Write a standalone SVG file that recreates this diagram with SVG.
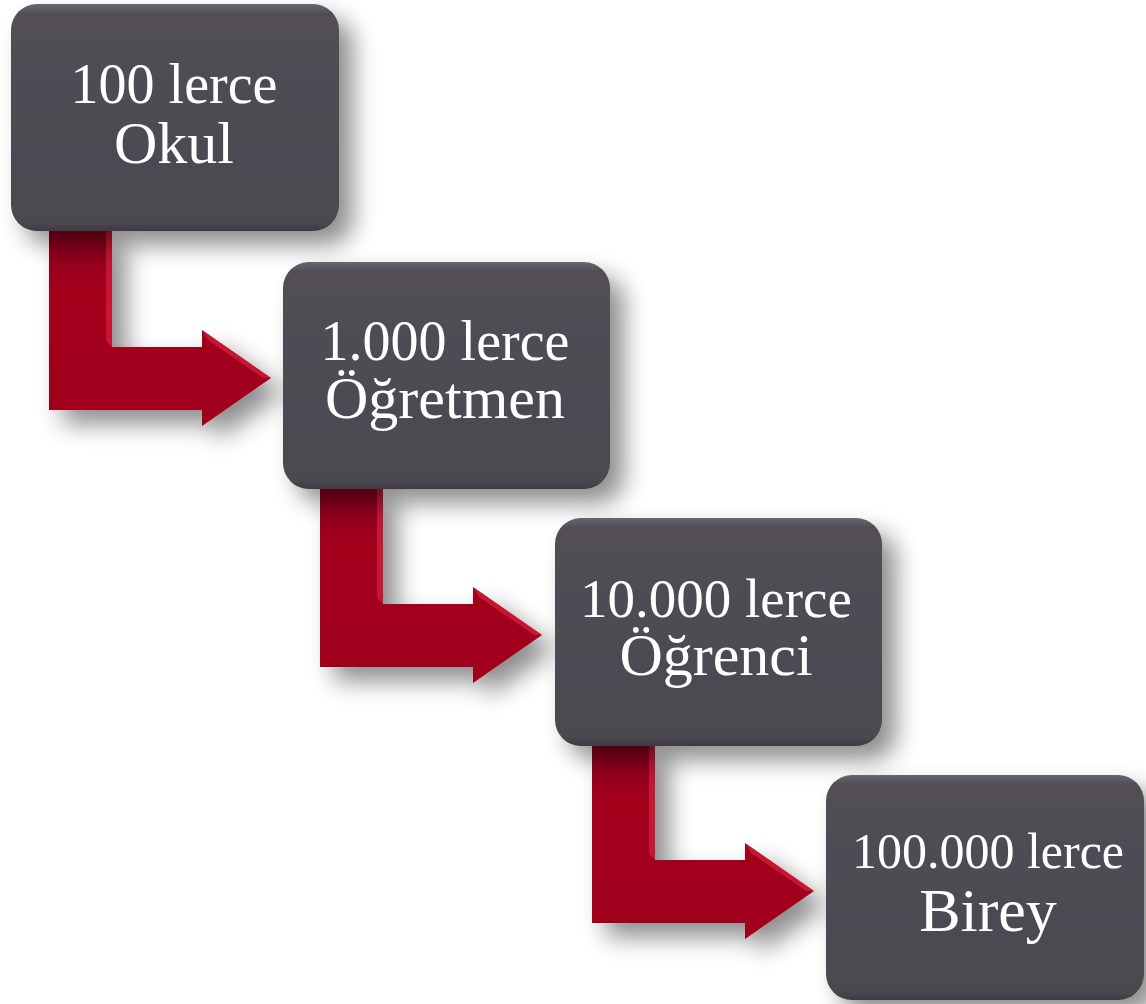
<svg xmlns="http://www.w3.org/2000/svg" width="1146" height="1004" viewBox="0 0 1146 1004">
<defs>
<filter id="sh" x="-20%" y="-20%" width="150%" height="150%">
<feGaussianBlur in="SourceAlpha" stdDeviation="12"/>
<feOffset dx="14" dy="14" result="b"/>
<feComponentTransfer><feFuncA type="linear" slope="0.45"/></feComponentTransfer>
<feMerge><feMergeNode/><feMergeNode in="SourceGraphic"/></feMerge>
</filter>
<linearGradient id="bx" x1="0" y1="0" x2="0" y2="1">
<stop offset="0" stop-color="#6a6670"/>
<stop offset="0.04" stop-color="#524e56"/>
<stop offset="0.96" stop-color="#4c4850"/>
<stop offset="1" stop-color="#3e3a42"/>
</linearGradient>
<linearGradient id="ar" x1="0" y1="0" x2="0" y2="1">
<stop offset="0" stop-color="#86001a"/>
<stop offset="0.3" stop-color="#a3001f"/>
<stop offset="1" stop-color="#a0001e"/>
</linearGradient>
<path id="arrow" d="M0,0 H63 V116 H153 V99 L222,147 L153,195 V179 H0 Z"/>
<path id="bevel" d="M57,0 H63 V116 L57,110 Z M153,99 L222,147 L214,147 L159,109 Z"/>
</defs>
<style>
.box{fill:url(#bx);filter:url(#sh)}
.arr{fill:url(#ar);filter:url(#sh)}
.bev{fill:#d4213f;opacity:0.7}
.t{font-family:"Liberation Serif","DejaVu Serif",serif;fill:#ffffff;text-anchor:middle}
</style>
<g id="connectors">
<use href="#arrow" class="arr" x="49" y="231"/>
<use href="#bevel" class="bev" x="49" y="231"/>
<use href="#arrow" class="arr" x="320" y="488"/>
<use href="#bevel" class="bev" x="320" y="488"/>
<use href="#arrow" class="arr" x="592" y="744"/>
<use href="#bevel" class="bev" x="592" y="744"/>
</g>
<g id="node1">
<rect class="box" x="11" y="4" width="328" height="227" rx="26"/>
<text class="t" x="174" y="103" font-size="56">100 lerce</text>
<text class="t" x="174" y="163" font-size="60">Okul</text>
</g>
<g id="node2">
<rect class="box" x="283" y="262" width="327" height="227" rx="26"/>
<text class="t" x="445" y="360" font-size="56">1.000 lerce</text>
<text class="t" x="445" y="418" font-size="60">Öğretmen</text>
</g>
<g id="node3">
<rect class="box" x="555" y="518" width="327" height="228" rx="26"/>
<text class="t" x="716" y="617" font-size="55">10.000 lerce</text>
<text class="t" x="716" y="675" font-size="60">Öğrenci</text>
</g>
<g id="node4">
<rect class="box" x="826" y="775" width="318" height="225" rx="26"/>
<text class="t" x="988" y="868" font-size="50">100.000 lerce</text>
<text class="t" x="988" y="931" font-size="62">Birey</text>
</g>
</svg>
